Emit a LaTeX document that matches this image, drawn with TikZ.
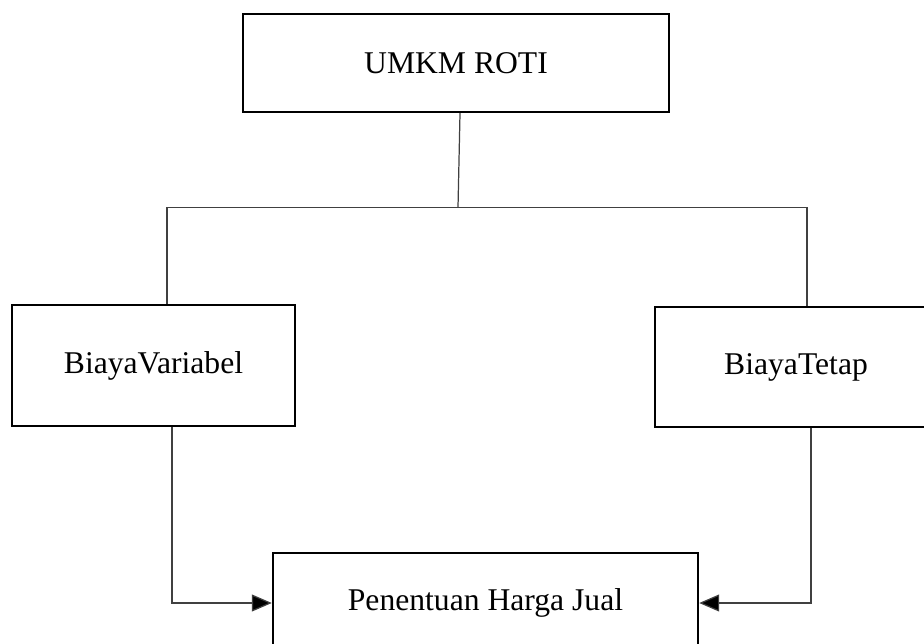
\documentclass[tikz,border=0pt]{standalone}
\usepackage{fontspec}
\setmainfont{Liberation Serif}
\usepackage{tikz}
\usetikzlibrary{arrows.meta, positioning}
\tikzset{
	block/.style={rectangle, draw, line width=1.4pt, align=center, text centered, font=\fontsize{18}{22}\selectfont},
	link/.style={draw=black!75, line width=0.7pt},
	flow/.style={link, -{Triangle[length=4mm, width=3.4mm, fill=black]}}
}

\begin{document}
\begin{tikzpicture}
	\useasboundingbox (0,0) rectangle (18.48,-12.88);
	\clip (0,0) rectangle (18.48,-12.88);
	% the boxes
	\node (umkm) [block, minimum width=8.52cm, minimum height=1.96cm] at (9.12,-1.26) {UMKM ROTI};
	\node (varb) [block, minimum width=5.66cm, minimum height=2.42cm] at (3.07,-7.31) {BiayaVariabel};
	\node (tetap) [block, minimum width=5.64cm, minimum height=2.40cm] at (15.92,-7.34) {BiayaTetap};
	\node (harga) [block, minimum width=8.50cm, minimum height=2.00cm] at (9.71,-12.06) {Penentuan Harga Jual};
	% the branches
	\coordinate (split) at (9.16,-4.15);
	\coordinate (lt) at (3.34,-4.15);
	\coordinate (rt) at (16.14,-4.15);
	\draw[link] (umkm.south -| 9.2,0) -- (split);
	\draw[link] (lt |- varb.north) -- (lt) -- (rt) -- (rt |- tetap.north);
	% into the price
	\draw[flow] ([xshift=0.37cm]varb.south) |- (harga.west);
	\draw[flow] ([xshift=0.30cm]tetap.south) |- (harga.east);
\end{tikzpicture}
\end{document}
